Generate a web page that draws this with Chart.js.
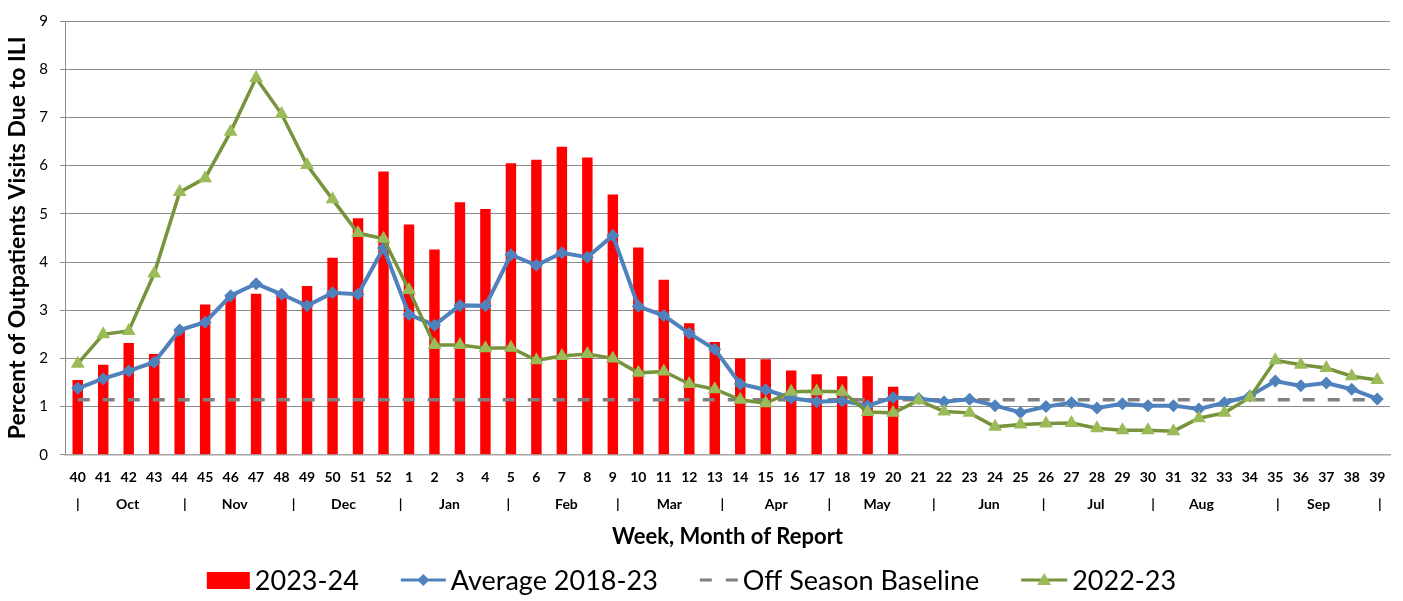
<!DOCTYPE html>
<html>
<head>
<meta charset="utf-8">
<script src="https://cdn.jsdelivr.net/npm/chart.js@4.4.1/dist/chart.umd.min.js"></script>
<style>
  html, body { margin: 0; padding: 0; background: #fff; }
  #wrap { width: 1403px; height: 601px; }
</style>
</head>
<body>
<div id="wrap"><canvas id="iliChart" width="1403" height="601"></canvas></div>
<script>
// week of report, Oct through Sep
const weeks = ["40","41","42","43","44","45","46","47","48","49","50","51","52",
  "1","2","3","4","5","6","7","8","9","10","11","12","13","14","15","16","17","18","19","20",
  "21","22","23","24","25","26","27","28","29","30","31","32","33","34","35","36","37","38","39"];

const season2324 = [1.55,1.87,2.32,2.09,2.60,3.12,3.30,3.34,3.35,3.50,4.09,4.91,5.88,
  4.78,4.26,5.24,5.10,6.05,6.12,6.39,6.17,5.40,4.30,3.63,2.73,2.34,2.00,1.98,1.75,1.67,1.63,1.63,1.41,
  null,null,null,null,null,null,null,null,null,null,null,null,null,null,null,null,null,null,null];

const average1823 = [1.38,1.58,1.74,1.92,2.59,2.75,3.30,3.55,3.33,3.09,3.36,3.33,4.29,
  2.91,2.69,3.10,3.09,4.15,3.93,4.19,4.10,4.55,3.08,2.89,2.52,2.19,1.47,1.35,1.18,1.10,1.12,1.02,1.19,
  1.17,1.10,1.15,1.02,0.88,1.00,1.08,0.97,1.06,1.02,1.02,0.95,1.08,1.22,1.53,1.43,1.49,1.36,1.16];

const baseline = weeks.map(() => 1.14);

const season2223 = [1.89,2.50,2.57,3.76,5.45,5.74,6.70,7.82,7.07,6.01,5.30,4.60,4.48,
  3.42,2.28,2.28,2.21,2.22,1.96,2.05,2.09,2.00,1.70,1.73,1.47,1.36,1.14,1.07,1.31,1.32,1.31,0.89,0.87,
  1.13,0.90,0.87,0.58,0.63,0.65,0.66,0.55,0.51,0.51,0.49,0.76,0.87,1.19,1.96,1.87,1.80,1.63,1.55];

// month row under the week labels (positions in week-index units)
const months = ["Oct","Nov","Dec","Jan","Feb","Mar","Apr","May","Jun","Jul","Aug","Sep"];
const monthCenters = [1.96,6.16,10.43,14.59,19.18,23.22,27.41,31.37,35.76,39.96,44.1,48.7];
const monthDividers = [0,4.2,8.47,12.67,16.9,21.2,25.3,29.5,33.6,37.9,42.2,47.1,51.1];

const RED = "#FF0000", BLUE = "#4F81BD", GREY = "#808080", GREEN = "#77933C", GREEN_FILL = "#9BBB59";
Chart.defaults.font.family = "Lato";
Chart.defaults.color = "#000";

const monthRow = {
  id: "monthRow",
  afterDraw(chart) {
    const x = chart.scales.x;
    const ctx = chart.ctx;
    const y = x.top + 50;
    ctx.save();
    ctx.font = "bold 14px Lato";
    ctx.fillStyle = "#000";
    ctx.textAlign = "center";
    ctx.textBaseline = "middle";
    monthDividers.forEach(v => ctx.fillText("|", x.getPixelForValue(v), y));
    months.forEach((m, i) => ctx.fillText(m, x.getPixelForValue(monthCenters[i]), y));
    ctx.restore();
  }
};

// legend drawn like the spreadsheet one: line + marker samples
const legendRow = {
  id: "legendRow",
  afterDraw(chart) {
    const ctx = chart.ctx;
    const y = chart.height - 21;
    const iconW = [43, 45, 38, 46];
    ctx.save();
    ctx.font = "27px Lato";
    ctx.textBaseline = "middle";
    const sets = chart.data.datasets;
    let total = 0;
    sets.forEach((ds, i) => { total += iconW[i] + 5 + ctx.measureText(ds.label).width; });
    total += 42 * (sets.length - 1);
    let x = chart.width / 2 - 10 - total / 2;
    sets.forEach((ds, i) => {
      const w = iconW[i];
      if (ds.type === "bar") {
        ctx.fillStyle = ds.backgroundColor;
        ctx.fillRect(x, y - 8, w, 17);
      } else if (ds.borderDash) {
        ctx.strokeStyle = ds.borderColor; ctx.lineWidth = 3;
        ctx.setLineDash([12, 14]);
        ctx.beginPath(); ctx.moveTo(x, y); ctx.lineTo(x + w, y); ctx.stroke();
        ctx.setLineDash([]);
      } else {
        ctx.strokeStyle = ds.borderColor; ctx.lineWidth = 3;
        ctx.beginPath(); ctx.moveTo(x, y); ctx.lineTo(x + w, y); ctx.stroke();
        ctx.fillStyle = ds.pointBackgroundColor;
        const cx = x + w / 2;
        ctx.beginPath();
        if (ds.pointStyle === "rectRot") {
          ctx.moveTo(cx, y - 6); ctx.lineTo(cx + 6, y); ctx.lineTo(cx, y + 6); ctx.lineTo(cx - 6, y);
        } else {
          ctx.moveTo(cx, y - 7); ctx.lineTo(cx + 7, y + 5); ctx.lineTo(cx - 7, y + 5);
        }
        ctx.closePath(); ctx.fill();
      }
      x += w + 5;
      ctx.fillStyle = "#000";
      ctx.fillText(ds.label, x, y + 1);
      x += ctx.measureText(ds.label).width + 42;
    });
    ctx.restore();
  }
};

new Chart(document.getElementById("iliChart"), {
  data: {
    labels: weeks,
    datasets: [
      {
        type: "bar", label: "2023-24", data: season2324,
        backgroundColor: RED, barPercentage: 0.41, categoryPercentage: 1, order: 3
      },
      {
        type: "line", label: "Average 2018-23", data: average1823,
        borderColor: BLUE, borderWidth: 4, pointStyle: "rectRot", pointRadius: 6.5,
        pointBackgroundColor: BLUE, pointBorderColor: BLUE, pointBorderWidth: 0, order: 1
      },
      {
        type: "line", label: "Off Season Baseline", data: baseline,
        borderColor: GREY, borderWidth: 3.5, borderDash: [12, 13], pointRadius: 0, order: 2
      },
      {
        type: "line", label: "2022-23", data: season2223,
        borderColor: GREEN, borderWidth: 3.5, pointStyle: "triangle", pointRadius: 8,
        pointBackgroundColor: GREEN_FILL, pointBorderColor: GREEN_FILL, pointBorderWidth: 0, order: 0
      }
    ]
  },
  options: {
    responsive: false,
    animation: false,
    layout: { padding: { top: 14, right: 13, left: 0, bottom: 51 } },
    plugins: {
      tooltip: { enabled: false },
      legend: { display: false }
    },
    scales: {
      x: {
        grid: { display: false, drawTicks: false },
        border: { display: true, color: "#A6A6A6", width: 1.5 },
        ticks: { autoSkip: false, maxRotation: 0, padding: 14, font: { size: 14, weight: "bold" } },
        title: {
          display: true, text: "Week, Month of Report",
          font: { size: 22, weight: "bold" }, padding: { top: 24, bottom: 0 }
        }
      },
      y: {
        min: 0, max: 9,
        afterFit(scale) { scale.width = 65; },
        grid: { color: "#8C8C8C", lineWidth: 1, tickLength: 5 },
        border: { display: true, color: "#8C8C8C", width: 1 },
        ticks: { stepSize: 1, padding: 12, font: { size: 15 } },
        title: {
          display: true, text: "Percent of Outpatients Visits Due to ILI",
          font: { size: 23, weight: "bold" }, padding: { top: 4, bottom: 4 }
        }
      }
    }
  },
  plugins: [monthRow, legendRow]
});
</script>
</body>
</html>
